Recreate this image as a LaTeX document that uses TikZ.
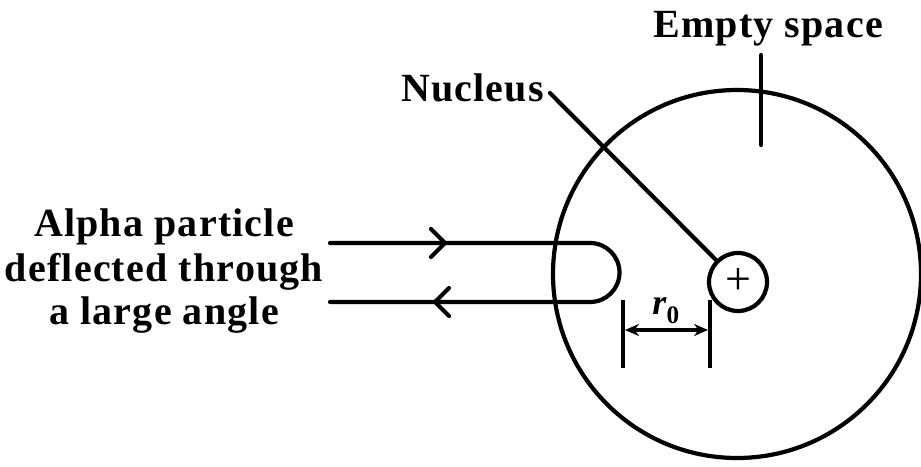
\documentclass[tikz,border=0pt]{standalone}
\usepackage{fontspec}
\setmainfont{Liberation Serif}
\newfontfamily\lblfont[LetterSpace=3]{Liberation Serif}
\usetikzlibrary{arrows.meta}
\tikzset{
  lbl/.style={font=\lblfont\fontsize{40}{44}\selectfont\bfseries, inner sep=0pt, align=center},
  ln/.style={line width=4.2pt, line cap=round, line join=round},
  thinln/.style={line width=3.6pt}
}
\begin{document}
\begin{tikzpicture}[x=1pt,y=1pt]
\useasboundingbox (0,0) rectangle (921,466);
% big circle (atom)
\draw[ln] (737,192) circle[radius=184];
% nucleus
\node[ln, draw, circle, minimum size=58pt, inner sep=0pt, font=\fontsize{46}{46}\selectfont] (nuc) at (738,184) {+};
% labels
\node[lbl, anchor=base] (es) at (768,428) {Empty space};
\node[lbl, anchor=base east] (nl) at (544,364) {Nucleus};
\node[lbl, anchor=base] (a1) at (164,229) {Alpha particle};
\node[lbl, anchor=base] (a2) at (164,184) {deflected through};
\node[lbl, anchor=base] (a3) at (164,141) {a large angle};
% empty space marker
\coordinate (est) at (761,411);
\coordinate (esb) at (761,321);
\draw[ln] (est) -- (esb);
% nucleus pointer
\draw[ln] ([shift={(6pt,9pt)}]nl.base east) -- (nuc.north west);
% alpha particle path
\coordinate (pin) at (330,223);
\coordinate (pout) at (330,164);
\draw[ln] (pin) -- (590,223) arc[start angle=90,end angle=-90,radius=29.5] -- (pout);
% direction chevrons
\draw[ln] (431,237) -- (445,223) -- (431,209);
\draw[ln] (449,178) -- (435,164) -- (449,150);
% r0 dimension
\coordinate (t1a) at (623,166);
\coordinate (t1b) at (623,98);
\coordinate (t2a) at (710,166);
\coordinate (t2b) at (710,98);
\draw[thinln] (t1a) -- (t1b);
\draw[thinln] (t2a) -- (t2b);
\draw[line width=3.4pt, {Stealth[length=14pt,width=12pt]}-{Stealth[length=14pt,width=12pt]}] (625,136) -- (708,136);
\node[font=\fontsize{36}{36}\selectfont\bfseries, inner sep=0pt, anchor=base] (r0) at (666,151) {\textit{r}\textsubscript{0}};
\end{tikzpicture}
\end{document}
